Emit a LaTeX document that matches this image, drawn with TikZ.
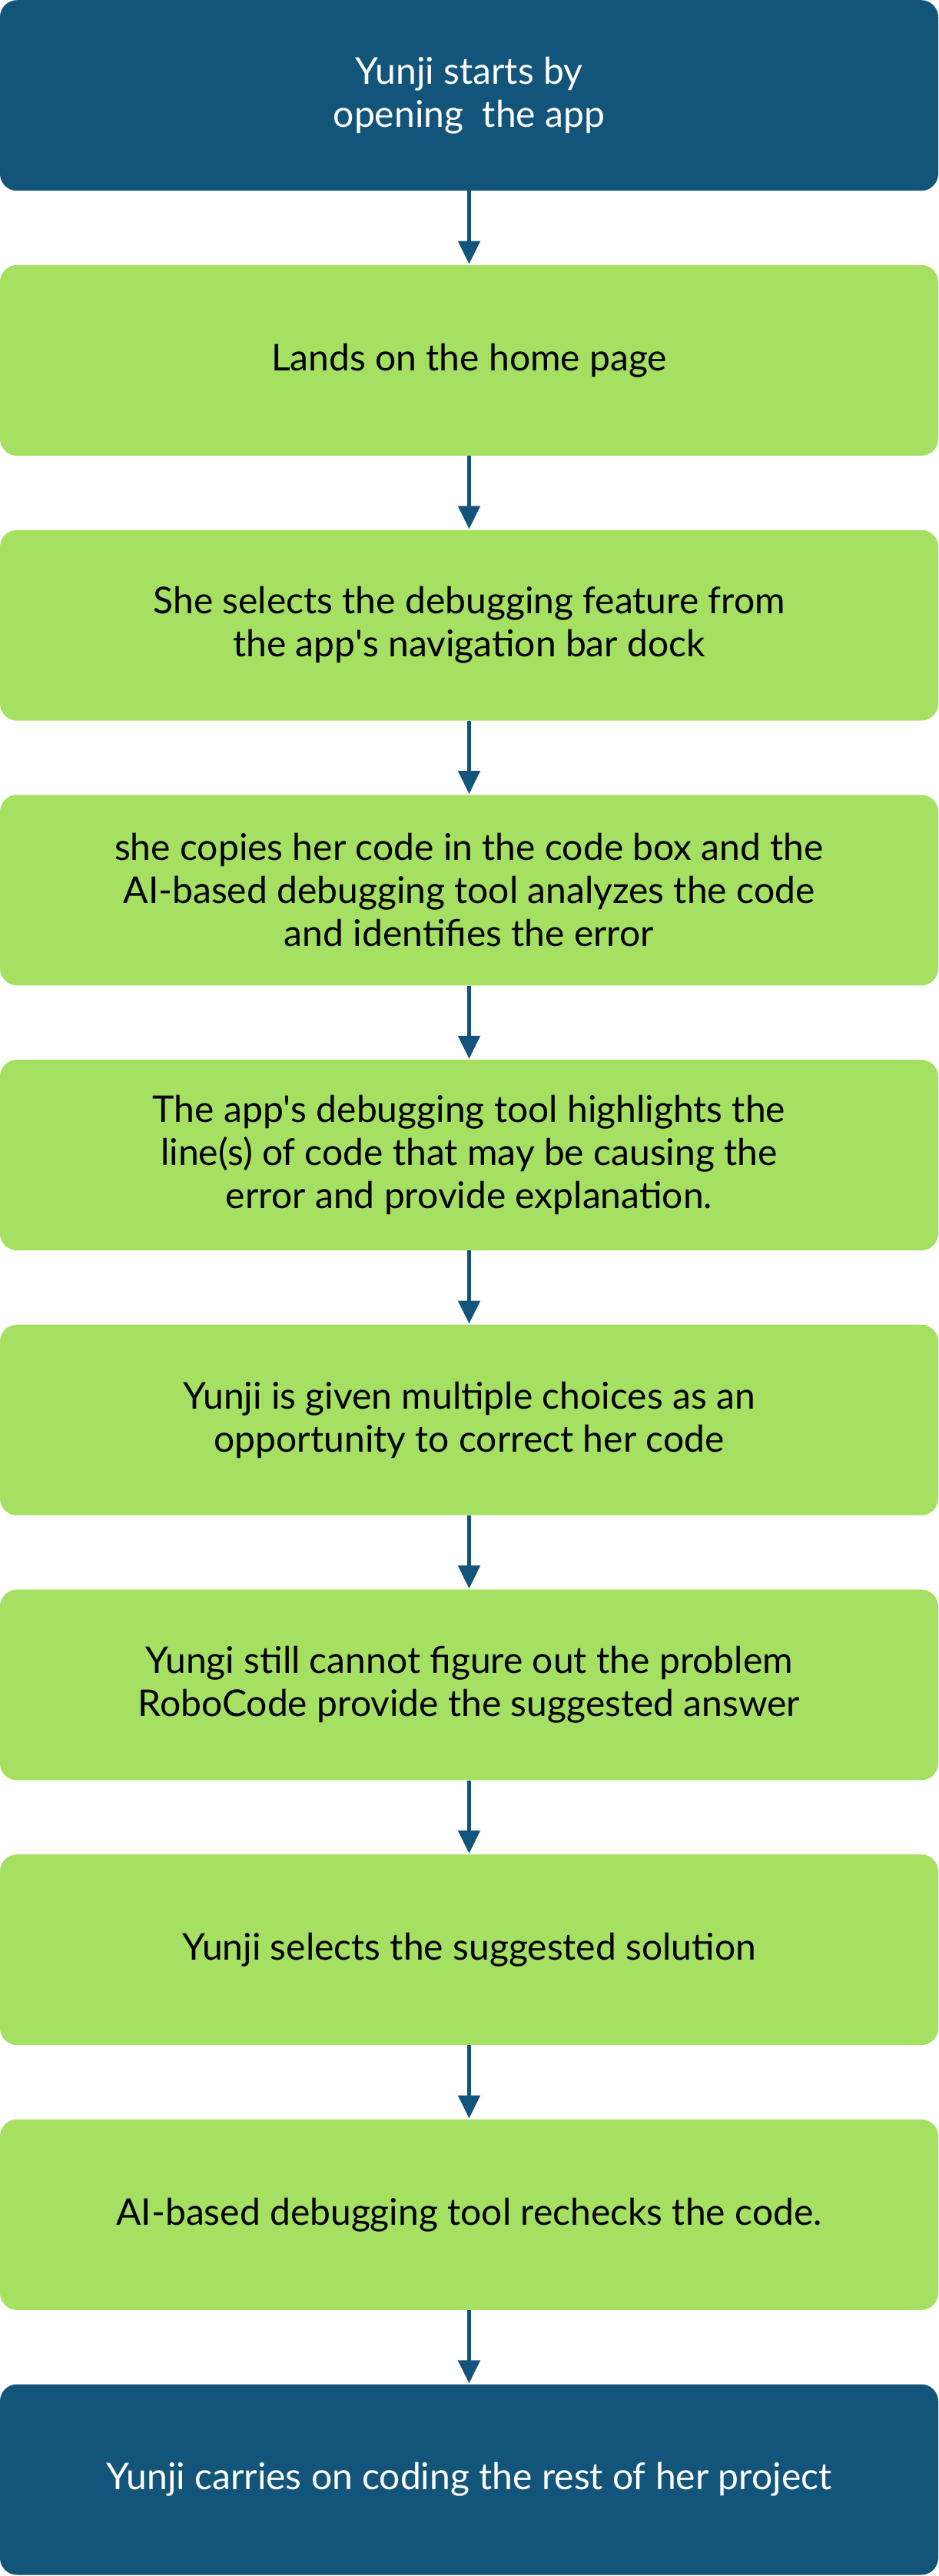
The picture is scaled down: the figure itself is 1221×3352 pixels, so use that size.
\documentclass[tikz,border=0pt]{standalone}
\usepackage{fontspec}
\setmainfont{Lato}
\newfontfamily\plainlato{Lato}[Ligatures=ResetAll]
\newcommand{\apos}{{\plainlato'}}
\usetikzlibrary{arrows.meta}
\definecolor{navy}{HTML}{13557A}
\definecolor{lime}{HTML}{A5E063}
\tikzset{
  box/.style={rounded corners=22pt, minimum width=1221pt, minimum height=248pt, inner sep=0pt, anchor=north, align=center, font=\fontsize{48}{56}\selectfont},
  navybox/.style={box, fill=navy, text=white},
  limebox/.style={box, fill=lime, text=black},
  flow/.style={draw=navy, line width=5pt, -{Triangle[length=30pt,width=28pt]}, shorten >=1pt}
}
\begin{document}
\begin{tikzpicture}[x=1pt,y=-1pt]
\useasboundingbox (0,0) rectangle (1221,3352);
\node[navybox] (b0) at (610.5,0) {Yunji starts by\\opening\ \ the app};
\node[limebox] (b1) at (610.5,344.7) {Lands on the home page};
\node[limebox] (b2) at (610.5,689.4) {She selects the debugging feature from\\the app\apos s navigation bar dock};
\node[limebox] (b3) at (610.5,1034.1) {she copies her code in the code box and the\\AI-based debugging tool analyzes the code\\and identifies the error};
\node[limebox] (b4) at (610.5,1378.8) {The app\apos s debugging tool highlights the\\line(s) of code that may be causing the\\error and provide explanation.};
\node[limebox] (b5) at (610.5,1723.5) {Yunji is given multiple choices as an\\opportunity to correct her code};
\node[limebox] (b6) at (610.5,2068.2) {Yungi still cannot figure out the problem\\RoboCode provide the suggested answer};
\node[limebox] (b7) at (610.5,2412.9) {Yunji selects the suggested solution};
\node[limebox] (b8) at (610.5,2757.6) {AI-based debugging tool rechecks the code.};
\node[navybox] (b9) at (610.5,3102.3) {Yunji carries on coding the rest of her project};
\foreach \a/\b in {b0/b1,b1/b2,b2/b3,b3/b4,b4/b5,b5/b6,b6/b7,b7/b8,b8/b9}
  \draw[flow] (\a.south) -- (\b.north);
\end{tikzpicture}
\end{document}
